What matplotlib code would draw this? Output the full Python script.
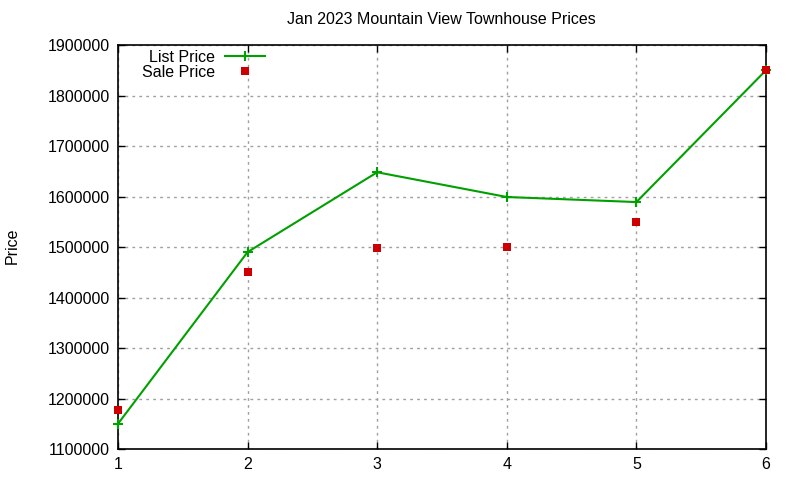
import matplotlib
matplotlib.use("Agg")
import matplotlib.pyplot as plt

plt.rcParams['font.family'] = ['Liberation Sans', 'DejaVu Sans']

x_vals = [1, 2, 3, 4, 5, 6]
list_price = [1150000, 1490000, 1648000, 1599000, 1589000, 1850000]
sale_price = [1178000, 1451000, 1499000, 1500000, 1550000, 1850000]
y_ticks = [1100000, 1200000, 1300000, 1400000, 1500000, 1600000, 1700000, 1800000, 1900000]
title = "Jan 2023 Mountain View Townhouse Prices"

fig = plt.figure(figsize=(8, 4.8), dpi=100)
ax = fig.add_axes([118/800, 1-449/480, (766-118)/800, (449-45)/480])

green = '#00a000'
red = '#cc0000'
fs = 11.5

ax.plot(x_vals, list_price, color=green, lw=1.5, marker='+', markersize=7.5,
        markeredgewidth=1.5, label='List Price', zorder=3, clip_on=False)
ax.plot(x_vals, sale_price, linestyle='none', marker='s', markersize=6.2,
        color=red, markeredgewidth=0, label='Sale Price', zorder=4, clip_on=False)

ax.set_xlim(1, 6)
ax.set_ylim(1100000, 1900000)
ax.set_xticks(x_vals)
ax.set_yticks(y_ticks)
ax.set_xticklabels([str(v) for v in x_vals], fontsize=fs)
ax.set_yticklabels([str(v) for v in y_ticks], fontsize=fs)
ax.tick_params(direction='in', length=5, width=1, top=True, right=True,
               color='black', pad=6)
ax.grid(True, color='#a0a0a0', linestyle=(0, (2, 3)), lw=1)
for s in ax.spines.values():
    s.set_linewidth(1.2)

fig.text(0.5 + (441-400)/800, 1-20/480, title, ha='center', va='center', fontsize=fs)
fig.text(12/800, 1-246/480, 'Price', rotation=90, ha='center', va='center', fontsize=fs)

leg = ax.legend(loc='upper left', bbox_to_anchor=(0.02, 1.016), frameon=False,
                fontsize=fs, markerfirst=False, handlelength=2.5,
                handletextpad=0.6, labelspacing=0.0, borderaxespad=0.3)
for t in leg.get_texts():
    t.set_ha('right')
leg._legend_box.align = 'right'

fig.savefig('out.png', dpi=100)
